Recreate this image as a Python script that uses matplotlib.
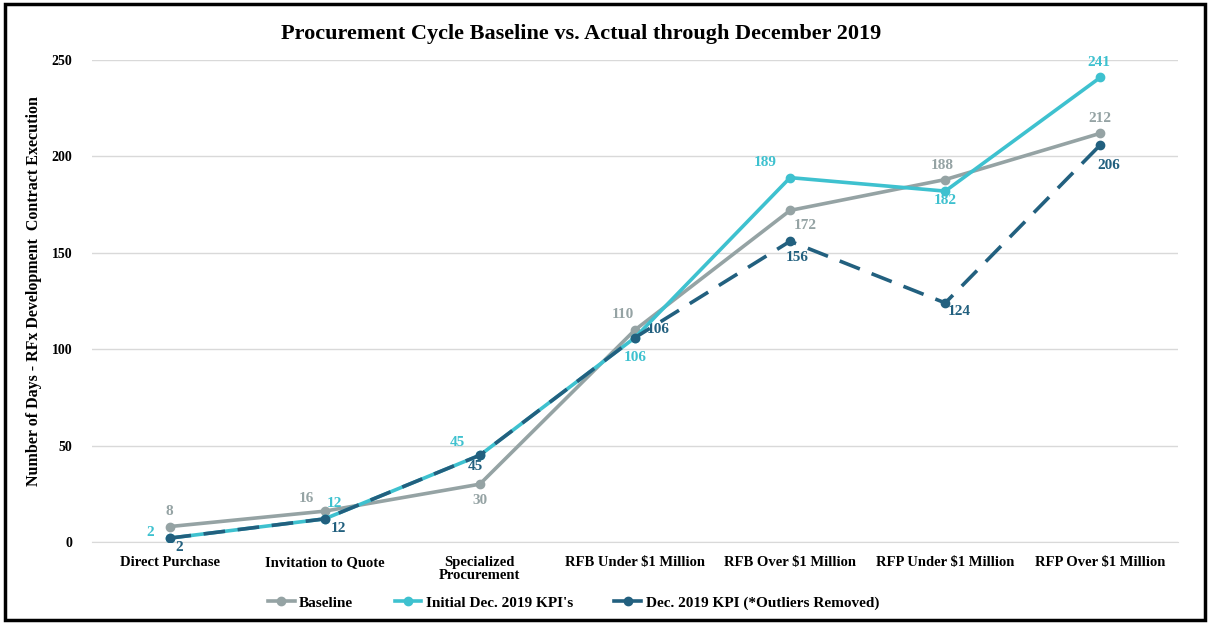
import matplotlib.pyplot as plt
import matplotlib.patches as patches
from matplotlib.lines import Line2D

plt.rcParams['font.family'] = ['Liberation Serif', 'DejaVu Serif']
plt.rcParams['font.weight'] = 'bold'

categories = ['Direct Purchase', 'Invitation to Quote', 'Specialized\nProcurement',
              'RFB Under $1 Million', 'RFB Over $1 Million', 'RFP Under $1 Million',
              'RFP Over $1 Million']
baseline = [8, 16, 30, 110, 172, 188, 212]
initial = [2, 12, 45, 106, 189, 182, 241]
outliers_removed = [2, 12, 45, 106, 156, 124, 206]

series_names = ['Baseline', "Initial Dec. 2019 KPI's", 'Dec. 2019 KPI (*Outliers Removed)']

c_base = '#95A3A4'
c_init = '#3EC1CF'
c_dark = '#22607F'

fig = plt.figure(figsize=(12.1, 6.24), dpi=100)
ax = fig.add_axes([0.076, 0.1314, 0.8975, 0.7724])

x = list(range(len(categories)))
ax.plot(x, baseline, color=c_base, linewidth=2.6, marker='o', markersize=6, zorder=3)
ax.plot(x, initial, color=c_init, linewidth=2.6, marker='o', markersize=6, zorder=4)
ax.plot(x, outliers_removed, color=c_dark, linewidth=2.6, marker='o', markersize=6,
        dashes=(6, 3.5), zorder=5)

# data labels: offsets in points
off_base = [(0, 11), (-13, 9), (0, -12), (-9, 11), (11, -11), (-2, 10), (0, 11)]
off_init = [(-14, 4), (7, 11), (-16, 9), (0, -14), (-18, 11), (0, -7), (-1, 11)]
off_dark = [(7, -7), (10, -7), (-3, -8), (17, 6), (5, -12), (10, -6), (6, -15)]

for vals, offs, col in [(baseline, off_base, c_base),
                        (initial, off_init, c_init),
                        (outliers_removed, off_dark, c_dark)]:
    for xi, v, o in zip(x, vals, offs):
        ax.annotate(str(v), (xi, v), xytext=o, textcoords='offset points',
                    ha='center', va='center', fontsize=11, color=col, fontweight='bold')

ax.set_xlim(-0.5, 6.5)
ax.set_ylim(0, 250)
ax.set_yticks([0, 50, 100, 150, 200, 250])
ax.set_xticks(x)
ax.set_xticklabels(categories, fontsize=10.5, fontweight='bold', linespacing=1.05)
ax.tick_params(axis='y', labelsize=10, length=0, pad=14)
ax.tick_params(axis='x', length=0, pad=10)
ax.grid(axis='y', color='#D9D9D9', linewidth=1)
ax.set_axisbelow(True)
for s in ['top', 'right', 'left']:
    ax.spines[s].set_visible(False)
ax.spines['bottom'].set_color('#D9D9D9')

ax.set_ylabel('Number of Days - RFx Development  Contract Execution', fontsize=11.5,
              fontweight='bold')
ax.yaxis.set_label_coords(-0.046, 0.52)
fig.text(0.48, 0.945, 'Procurement Cycle Baseline vs. Actual through December 2019',
         ha='center', va='center', fontsize=16, fontweight='bold')

handles = [Line2D([], [], color=c, linewidth=2.6, marker='o', markersize=6)
           for c in (c_base, c_init, c_dark)]
fig.legend(handles, series_names, loc='center', bbox_to_anchor=(0.474, 0.034), ncol=3,
           frameon=False, fontsize=11, handlelength=1.75, columnspacing=2.7,
           handletextpad=0.3)

fig.patches.append(patches.Rectangle((0.004, 0.006), 0.992, 0.988, transform=fig.transFigure,
                                     fill=False, edgecolor='black', linewidth=2.5))

plt.savefig('out.png', dpi=100)
